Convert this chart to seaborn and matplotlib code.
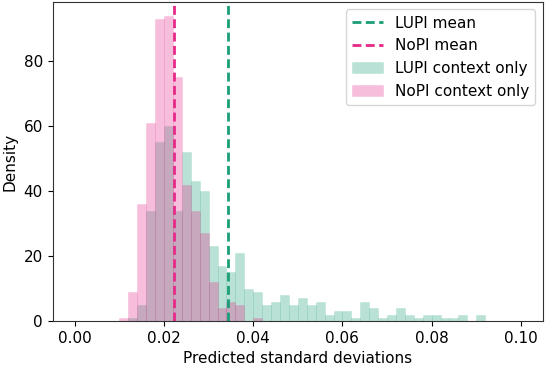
import numpy as np
import matplotlib
matplotlib.use('Agg')
import matplotlib.pyplot as plt
from matplotlib.colors import to_rgba
import seaborn as sns

# Гистограммы: число наблюдений в каждом из 50 бинов на [0, 0.1]
bin_edges = list(np.linspace(0, 0.1, 51))

lupi_counts = [0, 0, 0, 0, 0, 0, 1,
               5, 34, 55, 60, 34, 52, 43, 40, 23, 17,
               15, 21, 10, 9, 5, 6, 8, 5, 7, 5,
               6, 2, 3, 3, 1, 6, 4, 1, 2, 4,
               2, 1, 2, 2, 1, 1, 2, 0, 2,
               0, 0, 0, 0]
nopi_counts = [0, 0, 0, 0, 0,
               1, 9, 36, 61, 93, 94, 75, 42, 34, 27,
               12, 4, 6, 5, 0, 1,
               0, 0, 0, 0, 0, 0, 0, 0, 0, 0, 0, 0, 0, 0, 0, 0, 0, 0, 0,
               0, 0, 0, 0, 0, 0, 0, 0, 0, 0]

# Средние значения (вертикальные линии)
lupi_mean = 0.0344
nopi_mean = 0.0222

green = '#1b9e77'
pink = '#e7298a'

sns.set_style('ticks')
plt.rcParams['font.family'] = ['DejaVu Sans']
plt.rcParams['text.color'] = 'black'
plt.rcParams['axes.labelcolor'] = 'black'
plt.rcParams['xtick.color'] = 'black'
plt.rcParams['ytick.color'] = 'black'
plt.rcParams['axes.edgecolor'] = '#333333'

fig, ax = plt.subplots(figsize=(5.48, 3.7), dpi=100)
centers = [(a + b) / 2 for a, b in zip(bin_edges[:-1], bin_edges[1:])]

ax.axvline(lupi_mean, color=green, ls='--', lw=2, dashes=(3.2, 1.6), label='LUPI mean')
ax.axvline(nopi_mean, color=pink, ls='--', lw=2, dashes=(3.2, 1.6), label='NoPI mean')

sns.histplot(x=centers, weights=lupi_counts, bins=bin_edges, stat='density',
             color=green, alpha=0.3, edgecolor=to_rgba(green, 0.12), linewidth=0.6, ax=ax,
             label='LUPI context only')
sns.histplot(x=centers, weights=nopi_counts, bins=bin_edges, stat='density',
             color=pink, alpha=0.3, edgecolor=to_rgba(pink, 0.12), linewidth=0.6, ax=ax,
             label='NoPI context only')

ax.set_xlim(-0.005, 0.105)
ax.set_ylim(0, 98.2)
ax.set_yticks([0, 20, 40, 60, 80])
ax.set_xlabel('Predicted standard deviations', fontsize=11)
ax.set_ylabel('Density', fontsize=11)
ax.tick_params(labelsize=11)
ax.legend(loc='upper right', fontsize=11)

fig.subplots_adjust(left=0.096, right=0.991, top=0.995, bottom=0.132)
fig.savefig('out.png', dpi=100)
